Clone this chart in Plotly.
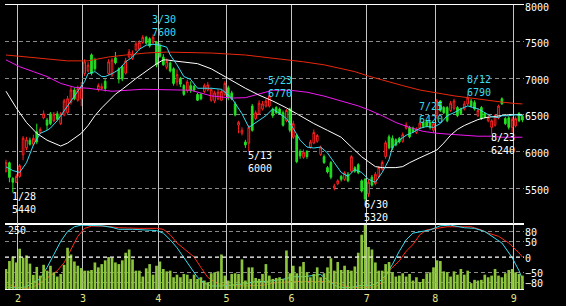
import pandas as pd
import plotly.graph_objects as go

FONT = "DejaVu Sans Mono"

# ---- trading calendar (Tokyo, 2011) ----
holidays = ["2011-02-11", "2011-03-21", "2011-04-29", "2011-05-03",
            "2011-05-04", "2011-05-05", "2011-07-18"]
dates = [d for d in pd.bdate_range("2011-01-26", "2011-09-05")
         if d.strftime("%Y-%m-%d") not in holidays]
idx = list(range(len(dates)))

# ---- daily prices ----
opens = [5730, 5847, 5634, 5580, 5660, 5955, 6050, 6155, 6100, 6270,
         6260, 6460, 6430, 6515, 6420, 6515, 6380, 6500, 6530, 6670,
         6840, 6700, 6720, 7065, 7100, 7320, 7250, 6850, 6860, 6960,
         7065, 7045, 7280, 7130, 7160, 7070, 7290, 7270, 7390, 7400,
         7490, 7560, 7540, 7490, 7500, 7440, 7290, 7150, 7210, 7130,
         6950, 7000, 6900, 6830, 6900, 6890, 6780, 6780, 6820, 6840,
         6700, 6690, 6720, 6700, 6780, 6870, 6800, 6650, 6360, 6250,
         6130, 6115, 6620, 6450, 6515, 6580, 6620, 6620, 6570, 6600,
         6580, 6530, 6420, 6580, 6195, 6220, 6000, 5920, 6000, 6060,
         6115, 6140, 5960, 5930, 5780, 5850, 5500, 5560, 5660, 5620,
         5690, 5730, 5780, 5820, 5600, 5620, 5420, 5650, 5560, 5660,
         5760, 5930, 6200, 6180, 6160, 6180, 6140, 6320, 6330, 6320,
         6260, 6320, 6400, 6410, 6400, 6290, 6490, 6690, 6600, 6600,
         6560, 6590, 6600, 6580, 6580, 6650, 6690, 6670, 6490, 6600,
         6520, 6420, 6330, 6360, 6460, 6720, 6450, 6460, 6330, 6350,
         6520, 6480]
highs = [5888, 5861, 5650, 5690, 5830, 6210, 6200, 6190, 6230, 6380,
         6330, 6560, 6460, 6540, 6540, 6550, 6540, 6720, 6760, 6880,
         6870, 6900, 6950, 7260, 7220, 7340, 7280, 6930, 6930, 6990,
         7260, 7280, 7360, 7150, 7180, 7280, 7400, 7380, 7510, 7520,
         7590, 7580, 7560, 7600, 7510, 7480, 7330, 7270, 7230, 7150,
         7120, 7020, 6920, 6980, 6960, 6910, 6800, 6800, 6930, 6950,
         6870, 6830, 6850, 6850, 6960, 6900, 6830, 6680, 6420, 6330,
         6160, 6360, 6650, 6560, 6700, 6690, 6720, 6770, 6600, 6620,
         6600, 6560, 6580, 6600, 6420, 6240, 6030, 6030, 6020, 6160,
         6300, 6240, 6080, 5960, 5800, 5870, 5560, 5620, 5680, 5730,
         5720, 5950, 5800, 5840, 5620, 5640, 5620, 5680, 5720, 5800,
         5880, 6150, 6230, 6220, 6180, 6200, 6260, 6400, 6350, 6340,
         6330, 6420, 6410, 6420, 6410, 6400, 6720, 6700, 6620, 6620,
         6690, 6720, 6620, 6600, 6690, 6790, 6720, 6700, 6590, 6620,
         6540, 6500, 6440, 6510, 6640, 6740, 6470, 6480, 6470, 6480,
         6540, 6500]
lows = [5714, 5580, 5440, 5570, 5640, 5880, 6020, 6080, 6080, 6100,
        6240, 6440, 6290, 6360, 6400, 6420, 6360, 6480, 6500, 6640,
        6700, 6680, 6620, 7030, 7080, 7040, 7100, 6820, 6840, 6820,
        7050, 7020, 7190, 6930, 6960, 7050, 7270, 7250, 7370, 7380,
        7470, 7460, 7420, 7470, 7150, 7280, 7170, 7120, 7080, 6900,
        6900, 6880, 6760, 6800, 6800, 6820, 6690, 6700, 6800, 6820,
        6680, 6660, 6700, 6690, 6760, 6700, 6700, 6480, 6250, 6220,
        6050, 6000, 6270, 6430, 6500, 6560, 6600, 6600, 6460, 6510,
        6500, 6340, 6400, 6260, 6170, 5840, 5900, 5900, 5900, 6040,
        6100, 6120, 5940, 5830, 5700, 5620, 5470, 5540, 5590, 5600,
        5580, 5710, 5710, 5690, 5440, 5320, 5380, 5520, 5540, 5640,
        5740, 5900, 6030, 6020, 6070, 6110, 6120, 6300, 6180, 6250,
        6240, 6300, 6320, 6330, 6300, 6260, 6450, 6540, 6510, 6400,
        6540, 6560, 6470, 6500, 6560, 6630, 6600, 6560, 6470, 6430,
        6450, 6400, 6240, 6340, 6440, 6640, 6360, 6300, 6260, 6330,
        6400, 6400]
closes = [5847, 5647, 5580, 5660, 5807, 6182, 6160, 6100, 6180, 6130,
          6300, 6515, 6360, 6380, 6510, 6440, 6515, 6690, 6720, 6840,
          6720, 6860, 6880, 7225, 7180, 7065, 7130, 6900, 6890, 6860,
          7225, 7250, 7210, 6990, 6990, 7240, 7360, 7330, 7470, 7490,
          7560, 7480, 7440, 7560, 7180, 7300, 7185, 7230, 7100, 6930,
          7050, 6920, 6780, 6950, 6830, 6840, 6700, 6720, 6900, 6910,
          6850, 6800, 6810, 6820, 6930, 6730, 6720, 6500, 6400, 6290,
          6090, 6330, 6290, 6530, 6660, 6650, 6690, 6760, 6490, 6530,
          6520, 6360, 6560, 6290, 6380, 5860, 5940, 5990, 5930, 6130,
          6260, 6220, 6060, 5850, 5720, 5650, 5530, 5600, 5620, 5710,
          5600, 5930, 5730, 5710, 5460, 5353, 5580, 5540, 5690, 5780,
          5850, 6120, 6050, 6050, 6090, 6130, 6230, 6360, 6200, 6270,
          6310, 6390, 6340, 6350, 6330, 6380, 6690, 6560, 6530, 6420,
          6660, 6690, 6490, 6520, 6650, 6730, 6620, 6580, 6560, 6450,
          6470, 6460, 6420, 6490, 6620, 6650, 6380, 6330, 6440, 6450,
          6420, 6430]

# ---- moving averages (day index, value) ----
ma_cyan_idx = [0, 2, 4, 6, 8, 10, 12, 13, 15, 17, 19, 21, 23, 24, 26, 28, 29, 31, 33, 35,
               37, 39, 41, 43, 45, 47, 48, 50, 52, 54, 56, 60, 63, 66, 69, 71, 73, 76, 78, 80,
               82, 84, 86, 88, 90, 92, 94, 96, 98, 100, 102, 104, 106, 108, 110, 112, 113, 115, 117, 119,
               121, 123, 125, 127, 129, 131, 133, 135, 136, 138, 140, 142, 144, 145, 147, 149, 151]
ma_cyan = [5790, 5740, 5714, 5847, 6088, 6248, 6289, 6320, 6422, 6556, 6690, 6823, 6957, 7064, 7091, 7024, 7024, 7064, 7118, 7225,
           7291, 7398, 7452, 7465, 7452, 7425, 7318, 7184, 7024, 6984, 6864, 6864, 6850, 6730, 6516, 6330, 6396, 6489, 6583, 6516,
           6450, 6316, 6155, 6061, 6048, 6061, 5981, 5847, 5714, 5660, 5754, 5714, 5620, 5580, 5714, 5888, 6061, 6155, 6222, 6262,
           6316, 6342, 6329, 6382, 6489, 6530, 6583, 6623, 6610, 6583, 6530, 6476, 6462, 6489, 6489, 6503, 6489]
ma_white_idx = [0, 3, 6, 9, 12, 15, 16, 18, 20, 22, 24, 26, 28, 30, 32, 34, 36, 38, 40, 42,
                44, 46, 47, 49, 52, 56, 60, 63, 66, 70, 74, 78, 82, 86, 90, 94, 98, 101, 104, 106,
                108, 110, 114, 116, 118, 121, 124, 126, 128, 130, 132, 134, 136, 138, 140, 142, 144, 147, 151]
ma_white = [6823, 6596, 6396, 6248, 6155, 6101, 6075, 6115, 6182, 6248, 6355, 6489, 6596, 6690, 6783, 6850, 6930, 6997, 7064, 7131,
            7198, 7251, 7251, 7238, 7225, 7200, 7130, 7050, 6960, 6864, 6770, 6690, 6596, 6489, 6382, 6289, 6195, 6061, 5928, 5861,
            5794, 5780, 5780, 5794, 5847, 5914, 5981, 6021, 6115, 6222, 6302, 6355, 6396, 6436, 6462, 6476, 6489, 6503, 6503]
ma_mag_idx = [0, 4, 8, 12, 16, 20, 24, 28, 31, 40, 54, 60, 66, 70, 74, 78, 83, 88, 93, 98,
              103, 106, 110, 114, 118, 122, 126, 130, 134, 138, 142, 145, 151]
ma_mag = [7251, 7158, 7091, 7024, 6930, 6877, 6864, 6837, 6823, 6850, 6837, 6760, 6730, 6735, 6790, 6837, 6837, 6810, 6757, 6690,
          6623, 6570, 6489, 6396, 6329, 6275, 6249, 6235, 6222, 6209, 6209, 6195, 6195]
ma_red_idx = [0, 6, 12, 18, 24, 30, 35, 41, 47, 60, 70, 80, 87, 93, 98, 102, 106, 111, 116, 121,
              126, 131, 136, 141, 145, 149, 151]
ma_red = [7318, 7291, 7265, 7238, 7238, 7291, 7318, 7345, 7358, 7345, 7318, 7265, 7225, 7184, 7131, 7091, 7030, 6960, 6900, 6840,
          6795, 6760, 6730, 6695, 6675, 6655, 6650]

# ---- volume (thousand shares) ----
volume = [85, 119, 138, 113, 171, 133, 143, 108, 60, 94, 57, 103, 78, 99, 71, 53, 64, 103, 175, 147,
          117, 99, 89, 78, 78, 81, 113, 92, 106, 122, 136, 133, 113, 106, 122, 154, 168, 126, 78, 78,
          53, 88, 106, 61, 99, 117, 85, 75, 78, 50, 61, 50, 64, 61, 43, 61, 43, 50, 36, 29,
          67, 71, 75, 147, 57, 36, 64, 67, 64, 126, 36, 92, 92, 47, 43, 64, 106, 57, 43, 47,
          50, 43, 164, 67, 99, 67, 96, 115, 71, 50, 64, 92, 50, 67, 92, 131, 78, 115, 81, 99,
          81, 78, 96, 154, 231, 272, 179, 168, 113, 78, 78, 106, 115, 71, 53, 57, 67, 53, 64, 36,
          50, 29, 43, 67, 71, 92, 122, 119, 75, 71, 53, 75, 61, 85, 61, 78, 25, 39, 36, 39,
          61, 50, 57, 85, 57, 50, 67, 81, 85, 71, 64, 57]
vol_label = 250

# ---- RCI (day index, value) ----
rci_s_idx = [0, 3, 6, 8, 10, 12, 14, 16, 18, 20, 22, 25, 28, 31, 33, 37, 41, 44, 46, 48,
             50, 52, 54, 56, 58, 60, 63, 67, 70, 73, 76, 81, 84, 87, 90, 92, 93, 95, 97, 100,
             104, 107, 109, 111, 113, 115, 117, 119, 122, 124, 127, 130, 134, 137, 140, 142, 145, 148, 150, 151]
rci_s = [-94, -97, -94, -79, -69, -33, 8, 49, 80, 95, 100, 100, 98, 93, 87, 87, 85, 83, 75, 54,
         29, -2, -33, -64, -82, -91, -91, -88, -84, -77, -77, -70, -62, -62, -58, -55, -64, -79, -94, -97,
         -89, -89, -79, -58, -23, 18, 54, 75, 82, 85, 98, 100, 92, 90, 80, 65, 44, -2, -43, -69]
rci_l_idx = [0, 3, 6, 9, 11, 13, 15, 17, 19, 21, 23, 25, 29, 33, 39, 44, 46, 48, 50, 53,
             55, 57, 59, 62, 65, 68, 72, 75, 78, 81, 84, 87, 90, 93, 97, 100, 103, 108, 110, 112,
             115, 117, 119, 121, 123, 126, 129, 133, 136, 139, 141, 144, 147, 150, 151]
rci_l = [-84, -94, -100, -89, -74, -58, -43, -18, 23, 65, 90, 97, 97, 92, 90, 90, 87, 70, 44, 18,
         0, -33, -64, -84, -89, -91, -91, -89, -82, -79, -77, -77, -76, -77, -82, -94, -96, -94, -79, -43,
         -12, 18, 39, 70, 85, 90, 95, 95, 95, 85, 75, 65, 44, 13, 0]

# ---- peak / trough labels ----
lab_idx = [2, 43, 71, 77, 105, 121, 135, 142]
lab_date = ["1/28", "3/30", "5/13", "5/23", "6/30", "7/25", "8/12", "8/23"]
lab_price = [5440, 7600, 6000, 6770, 5320, 6420, 6790, 6240]
lab_high = [False, True, False, True, False, True, True, False]

price_ticks = [5500, 6000, 6500, 7000, 7500, 8000]
rci_ticks = [80, 50, 0, -50, -80]

# month boundaries from the calendar
month_vals, month_text = [], []
for i in range(1, len(dates)):
    if dates[i].month != dates[i - 1].month:
        month_vals.append(i - 0.5)
        month_text.append(str(dates[i].month))

XR = [-0.29, 151.46]
CYAN = "#38dcf0"
fig = go.Figure()

fig.add_trace(go.Bar(x=idx, y=volume, xaxis="x", yaxis="y3", width=0.78,
                     marker=dict(color="#8cc43c", line=dict(width=0)), hoverinfo="skip"))
fig.add_trace(go.Scatter(x=rci_l_idx, y=rci_l, xaxis="x", yaxis="y2", mode="lines",
                         line=dict(color="#ff2a1a", width=1), hoverinfo="skip"))
fig.add_trace(go.Scatter(x=rci_s_idx, y=rci_s, xaxis="x", yaxis="y2", mode="lines",
                         line=dict(color=CYAN, width=1), hoverinfo="skip"))

fig.add_trace(go.Candlestick(x=idx, open=opens, high=highs, low=lows, close=closes,
                             xaxis="x2", yaxis="y", whiskerwidth=0,
                             increasing=dict(line=dict(color="#ff2020", width=1), fillcolor="#000000"),
                             decreasing=dict(line=dict(color="#22e022", width=1), fillcolor="#22e022"),
                             hoverinfo="skip"))
for xs, ys, col in [(ma_red_idx, ma_red, "#e8280c"), (ma_mag_idx, ma_mag, "#f018f0"),
                    (ma_white_idx, ma_white, "#ffffff"), (ma_cyan_idx, ma_cyan, CYAN)]:
    fig.add_trace(go.Scatter(x=xs, y=ys, xaxis="x2", yaxis="y", mode="lines",
                             line=dict(color=col, width=1), hoverinfo="skip"))

ann = []
for i, d, p, hi in zip(lab_idx, lab_date, lab_price, lab_high):
    col = CYAN if hi else "#ffffff"
    ann.append(dict(x=i, y=p, xref="x2", yref="y", text=d + "<br>" + str(p), showarrow=False,
                    xanchor="left", yanchor="bottom" if hi else "top", align="left",
                    xshift=-3, yshift=-6 if hi else 4,
                    font=dict(family=FONT, size=10, color=col)))
ann.append(dict(x=0, xref="paper", y=vol_label, yref="y3", text=str(vol_label), showarrow=False,
                xanchor="left", yanchor="middle", xshift=1, yshift=0,
                font=dict(family=FONT, size=10, color="#ffffff")))

axcommon = dict(range=XR, tickmode="array", tickvals=month_vals, showgrid=True,
                gridcolor="#c4c4c4", gridwidth=1, showline=True, mirror=True,
                linecolor="#ffffff", linewidth=1, zeroline=False, ticks="",
                rangeslider=dict(visible=False))
DIV = 66 / 290
fig.update_layout(
    width=566, height=306, margin=dict(l=5, r=42, t=2, b=14),
    paper_bgcolor="#000000", plot_bgcolor="#000000", showlegend=False,
    xaxis=dict(domain=[0, 1], anchor="y2", ticktext=month_text,
               tickfont=dict(family=FONT, size=10, color="#e4e488"), **axcommon),
    xaxis2=dict(domain=[0, 1], anchor="y", matches="x", showticklabels=False, **axcommon),
    yaxis=dict(domain=[DIV, 1], anchor="x2", side="right", range=[5005, 8001],
               tickmode="array", tickvals=price_ticks, ticks="",
               showgrid=True, gridcolor="#8a8a8a", griddash="4px,3px", gridwidth=1,
               zeroline=False, showline=False, ticklabelshift=2, ticklabeloverflow="allow",
               tickfont=dict(family=FONT, size=10, color="#ffffff")),
    yaxis2=dict(domain=[0, DIV], anchor="x", side="right", range=[-100.5, 102.5],
                tickmode="array", tickvals=rci_ticks, ticks="",
                showgrid=True, gridcolor="#8a8a8a", griddash="4px,3px", gridwidth=1,
                zeroline=False, showline=False, ticklabelshift=1, ticklabeloverflow="allow",
                tickfont=dict(family=FONT, size=10, color="#ffffff")),
    yaxis3=dict(overlaying="y2", anchor="x", side="left", range=[0, 275],
                showticklabels=False, ticks="",
                showgrid=False, zeroline=False, showline=False),
    shapes=[dict(type="line", xref="x", yref="y2", x0=XR[0], x1=XR[1], y0=0, y1=0,
                 line=dict(color="#ffffff", width=1, dash="4px,3px"), layer="above")],
    annotations=ann,
)

fig.write_html("out.html")
